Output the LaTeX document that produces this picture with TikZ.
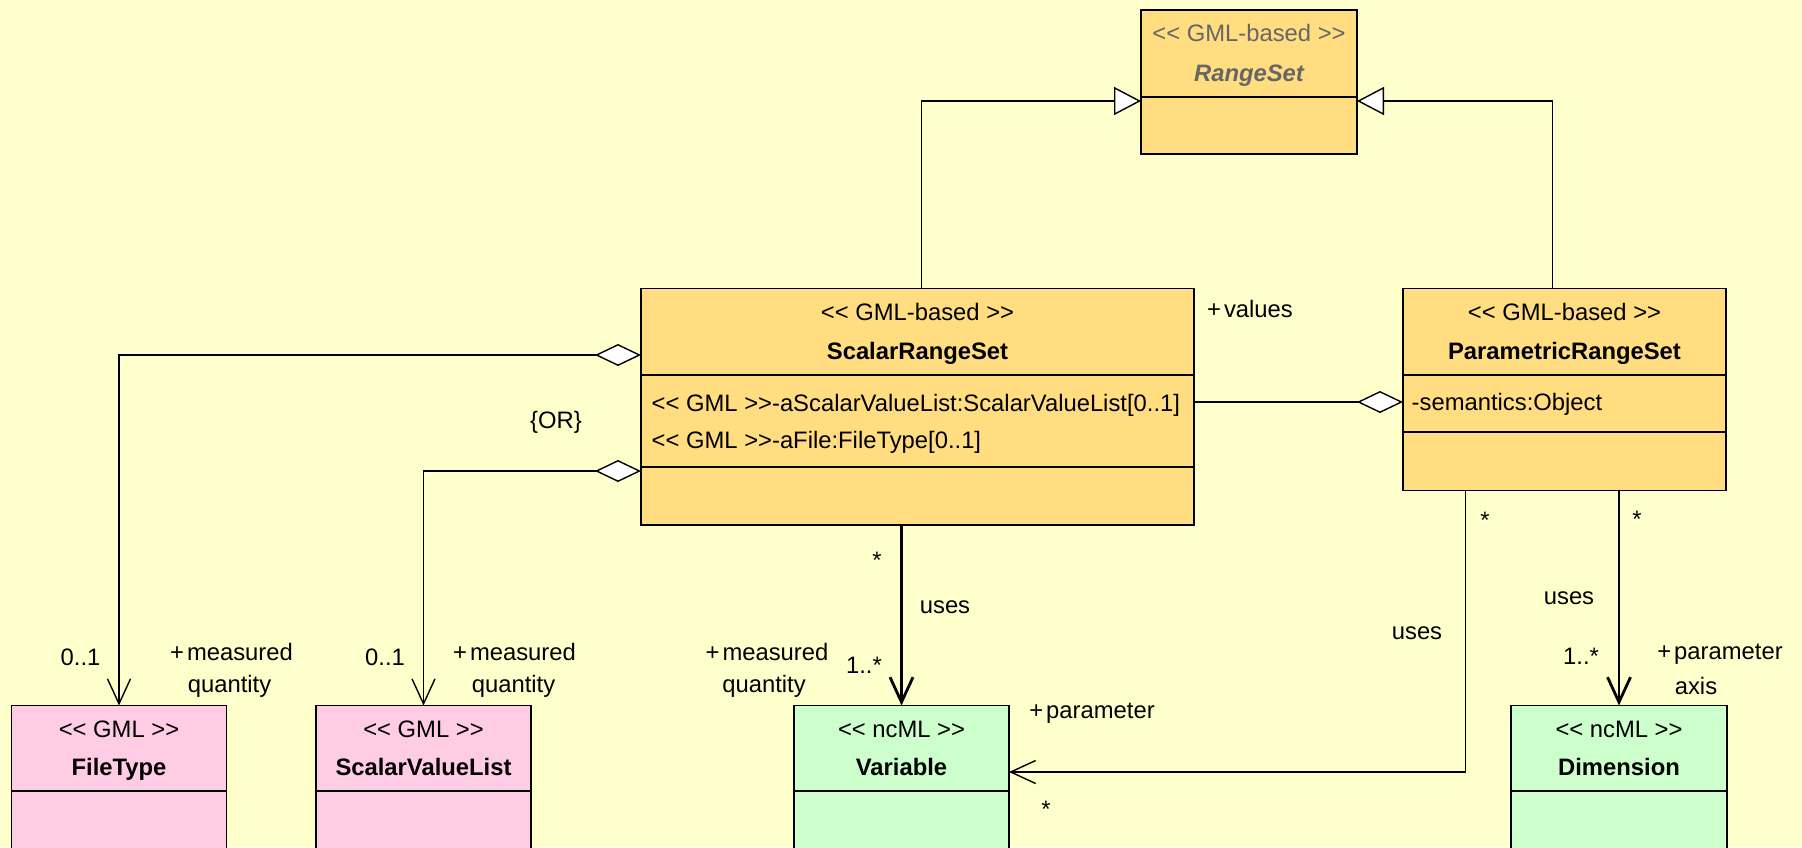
\documentclass[tikz,border=0pt]{standalone}
\usepackage{fontspec}
\setmainfont{Liberation Sans}
\usetikzlibrary{arrows.meta}
\definecolor{bg}{RGB}{255,255,204}
\definecolor{orangefill}{RGB}{255,221,128}
\definecolor{pinkfill}{RGB}{255,204,230}
\definecolor{greenfill}{RGB}{204,255,204}
\definecolor{graytext}{RGB}{102,102,102}
\newcommand{\umlfont}{\fontsize{23.8}{28}\selectfont}
\begin{document}
\begin{tikzpicture}[x=1pt,y=-1pt,font=\umlfont,
  cls/.style={draw=black,line width=1.9pt,anchor=north west,inner sep=0pt,outer sep=0pt},
  sepline/.style={line width=2pt},
  stereo/.style={anchor=base,inner sep=0pt},
  cname/.style={anchor=base,inner sep=0pt,font=\umlfont\bfseries},
  attr/.style={anchor=base west,inner sep=0pt},
  lbl/.style={anchor=base,inner sep=0pt},
  gen/.style={line width=1.4pt,-{Triangle[length=27pt,width=28pt,fill=white]}},
  agg/.style={line width=1.4pt,{Diamond[length=46pt,width=22pt,fill=white]}-{Straight Barb[length=25pt,width=23pt]}},
  nav/.style={-{Straight Barb[length=25pt,width=23pt]}},
  thickline/.style={line width=2.8pt},
  thinline/.style={line width=1.4pt}]
\useasboundingbox (0,0) rectangle (1802,847);
\clip (0,0) rectangle (1802,847);
\fill[bg] (0,0) rectangle (1802,847);

% RangeSet
\node[cls,fill=orangefill,minimum width=216pt,minimum height=144pt] (rs) at (1141,10) {};
\draw[sepline] (rs.west |- 0,96.5) -- (rs.east |- 0,96.5);
\node[stereo,text=graytext] (rsst) at (1249,41.5) {<{}< GML-based >{}>};
\node[cname,text=graytext,font=\umlfont\bfseries\itshape] (rsnm) at (1249,81) {RangeSet};

% ScalarRangeSet
\node[cls,fill=orangefill,minimum width=553pt,minimum height=236.5pt] (srs) at (641,288.5) {};
\draw[sepline] (srs.west |- 0,374.6) -- (srs.east |- 0,374.6);
\draw[sepline] (srs.west |- 0,466.6) -- (srs.east |- 0,466.6);
\node[stereo] (srsst) at (917.5,320) {<{}< GML-based >{}>};
\node[cname] (srsnm) at (917.5,359.5) {ScalarRangeSet};
\node[attr] (srsa1) at (651.5,411.5) {<{}< GML >{}>-aScalarValueList:ScalarValueList[0..1]};
\node[attr] (srsa2) at (651.5,448) {<{}< GML >{}>-aFile:FileType[0..1]};

% ParametricRangeSet
\node[cls,fill=orangefill,minimum width=323pt,minimum height=202pt] (prs) at (1403,288.5) {};
\draw[sepline] (prs.west |- 0,375) -- (prs.east |- 0,375);
\draw[sepline] (prs.west |- 0,432) -- (prs.east |- 0,432);
\node[stereo] (prsst) at (1564.5,320) {<{}< GML-based >{}>};
\node[cname] (prsnm) at (1564.5,359.5) {ParametricRangeSet};
\node[attr] (prsa1) at (1411.5,410) {-semantics:Object};

% FileType
\node[cls,fill=pinkfill,minimum width=215pt,minimum height=200pt] (ft) at (11.5,705.5) {};
\draw[sepline] (ft.west |- 0,790.7) -- (ft.east |- 0,790.7);
\node[stereo] (ftst) at (119,737.5) {<{}< GML >{}>};
\node[cname] (ftnm) at (119,775) {FileType};

% ScalarValueList
\node[cls,fill=pinkfill,minimum width=215pt,minimum height=200pt] (svl) at (316,705.5) {};
\draw[sepline] (svl.west |- 0,790.7) -- (svl.east |- 0,790.7);
\node[stereo] (svlst) at (423.5,737.5) {<{}< GML >{}>};
\node[cname] (svlnm) at (423.5,775) {ScalarValueList};

% Variable
\node[cls,fill=greenfill,minimum width=215pt,minimum height=200pt] (var) at (794,705.5) {};
\draw[sepline] (var.west |- 0,790.7) -- (var.east |- 0,790.7);
\node[stereo] (varst) at (901.5,737.5) {<{}< ncML >{}>};
\node[cname] (varnm) at (901.5,775) {Variable};

% Dimension
\node[cls,fill=greenfill,minimum width=216pt,minimum height=200pt] (dim) at (1511,705.5) {};
\draw[sepline] (dim.west |- 0,790.7) -- (dim.east |- 0,790.7);
\node[stereo] (dimst) at (1619,737.5) {<{}< ncML >{}>};
\node[cname] (dimnm) at (1619,775) {Dimension};

% Generalizations
\draw[gen] (srs.north -| 921.6,0) |- (rs.west |- 0,101);
\draw[gen] (prs.north -| 1552.6,0) |- (rs.east |- 0,101);

% Aggregation ScalarRangeSet - ParametricRangeSet
\draw[thickline,-{Diamond[length=46pt,width=22pt,fill=white,line width=1.4pt]}] (srs.east |- 0,402) -- (prs.west |- 0,402);
\node[lbl] (lvalues) at (1250,317.5) {+\kern3pt values};

% Aggregations to FileType / ScalarValueList
\draw[agg] (srs.west |- 0,355) -| (ft.north);
\draw[agg] (srs.west |- 0,471) -| (svl.north);
\node[lbl] (lor) at (556,428) {\{OR\}};
\node[lbl] (lft1) at (80.5,665.5) {0..1};
\node[lbl] (lft2) at (231.5,660) {+\kern3pt measured};
\node[lbl] (lft3) at (229.5,692) {quantity};
\node[lbl] (lsv1) at (385,665.5) {0..1};
\node[lbl] (lsv2) at (514.5,660) {+\kern3pt measured};
\node[lbl] (lsv3) at (513.5,692) {quantity};

% ScalarRangeSet uses Variable
\draw[thickline,nav] (var.north |- srs.south) -- (var.north);
\node[lbl] (lv1) at (877,568.5) {*};
\node[lbl] (lv2) at (945,613) {uses};
\node[lbl] (lv3) at (864,673) {1..*};
\node[lbl] (lv4) at (767,660) {+\kern3pt measured};
\node[lbl] (lv5) at (764,692) {quantity};

% ParametricRangeSet uses Variable
\draw[thinline,nav] (prs.south -| 1465.7,0) |- (var.east |- 0,772);
\node[lbl] (lp1) at (1485,528.5) {*};
\node[lbl] (lp2) at (1417,639) {uses};
\node[lbl] (lp3) at (1092,718) {+\kern3pt parameter};
\node[lbl] (lp4) at (1046,817) {*};

% ParametricRangeSet uses Dimension
\draw[thickline,nav] (dim.north |- prs.south) -- (dim.north);
\node[lbl] (ld1) at (1637,527) {*};
\node[lbl] (ld2) at (1569,604) {uses};
\node[lbl] (ld3) at (1581,664) {1..*};
\node[lbl] (ld4) at (1720,659) {+\kern3pt parameter};
\node[lbl] (ld5) at (1696,694) {axis};
\end{tikzpicture}
\end{document}
